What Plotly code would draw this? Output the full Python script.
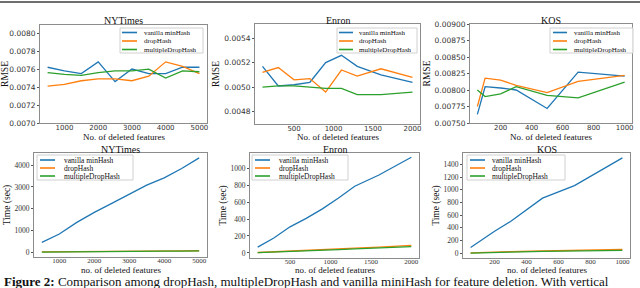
import plotly.graph_objects as go

W, H = 640, 288

# ---------------- data ----------------
series_names = ["vanilla minHash", "dropHash", "multipleDropHash"]
colors = ["#1f77b4", "#ff7f0e", "#2ca02c"]

nyt_x = [500, 1000, 1500, 2000, 2500, 3000, 3500, 4000, 4500, 5000]
enron_x = [100, 300, 500, 700, 900, 1100, 1300, 1600, 2000]
kos_x = [50, 100, 200, 300, 500, 700, 1000]

nyt_rmse_vanilla = [0.00762, 0.00758, 0.00755, 0.00768, 0.00746, 0.00760, 0.00755, 0.00755, 0.00762, 0.00762]
nyt_rmse_drop = [0.00741, 0.00743, 0.00747, 0.00749, 0.00749, 0.00747, 0.00752, 0.00768, 0.00763, 0.00755]
nyt_rmse_multi = [0.00756, 0.00754, 0.00753, 0.00756, 0.00758, 0.00758, 0.00760, 0.00750, 0.00758, 0.00757]

enron_rmse_vanilla = [0.00517, 0.00501, 0.00502, 0.00504, 0.00520, 0.00526, 0.00517, 0.00510, 0.00504]
enron_rmse_drop = [0.00512, 0.00516, 0.00506, 0.00507, 0.00496, 0.00514, 0.00509, 0.00515, 0.00508]
enron_rmse_multi = [0.00500, 0.00501, 0.00501, 0.00500, 0.00499, 0.00499, 0.00494, 0.00494, 0.00496]

kos_rmse_vanilla = [0.00763, 0.00805, 0.00803, 0.00800, 0.00772, 0.00827, 0.00821]
kos_rmse_drop = [0.00775, 0.00818, 0.00815, 0.00807, 0.00796, 0.00813, 0.00822]
kos_rmse_multi = [0.00800, 0.00790, 0.00794, 0.00805, 0.00792, 0.00788, 0.00812]

nyt_time_vanilla = [458, 840, 1374, 1832, 2244, 2656, 3084, 3420, 3847, 4336]
nyt_time_drop = [15, 25, 30, 35, 40, 45, 55, 62, 66, 70]
nyt_time_multi = [10, 20, 25, 30, 35, 40, 45, 50, 55, 60]

enron_time_vanilla = [68, 176, 308, 408, 520, 648, 788, 920, 1130]
enron_time_drop = [5, 15, 25, 32, 40, 47, 57, 68, 90]
enron_time_multi = [3, 12, 20, 27, 35, 40, 48, 58, 75]

kos_time_vanilla = [91, 176, 347, 501, 869, 1067, 1504]
kos_time_drop = [5, 10, 18, 25, 35, 45, 60]
kos_time_multi = [2, 7, 12, 18, 28, 35, 45]

titles = ["NYTimes", "Enron", "KOS"]
caption = "<b>Figure 2:</b> Comparison among dropHash, multipleDropHash and vanilla miniHash for feature deletion. With vertical"

# ---------------- layout helpers ----------------
def X(px):
    return px / W

def Y(py):
    return 1 - py / H

SERIF = "Liberation Serif, DejaVu Serif, serif"
SANS = "DejaVu Sans, sans-serif"

panels = [
    dict(x=nyt_x, ys=[nyt_rmse_vanilla, nyt_rmse_drop, nyt_rmse_multi], box=(40, 207, 25, 123),
         xr=[275, 5225], yr=[0.0070, 0.00809], xt=[1000, 2000, 3000, 4000, 5000],
         yt=[0.0070, 0.0072, 0.0074, 0.0076, 0.0078, 0.0080], fmt=".4f", ytitle="RMSE",
         xtitle="No. of deleted features", xty=137, tf=SANS, leg=(120, 203, 28, 53), lline=(122, 137), ltext=142,
         rows=(32.5, 41, 49.5), lf=7, title=titles[0], ty=21, lw=1.3, tso=-2),
    dict(x=enron_x, ys=[enron_rmse_vanilla, enron_rmse_drop, enron_rmse_multi], box=(255, 420, 24, 124),
         xr=[5, 2095], yr=[0.00470, 0.005515], xt=[500, 1000, 1500, 2000],
         yt=[0.0048, 0.0050, 0.0052, 0.0054], fmt=".4f", ytitle="RMSE",
         xtitle="No. of deleted features", xty=137, tf=SANS, leg=(337, 417, 28, 53), lline=(339, 353), ltext=357,
         rows=(32.5, 41, 49.5), lf=7, title=titles[1], ty=21, lw=1.3, tso=-2),
    dict(x=kos_x, ys=[kos_rmse_vanilla, kos_rmse_drop, kos_rmse_multi], box=(470, 632, 24, 123),
         xr=[2.5, 1047.5], yr=[0.0075, 0.0090], xt=[200, 400, 600, 800, 1000],
         yt=[0.0075, 0.00775, 0.0080, 0.00825, 0.0085, 0.00875, 0.0090], fmt=".5f", ytitle="RMSE",
         xtitle="No. of deleted features", xty=137, tf=SANS, leg=(550, 633, 28, 53), lline=(553, 567), ltext=572,
         rows=(32.5, 41, 49.5), lf=7, title=titles[2], ty=21, lw=1.3, tso=-2),
    dict(x=nyt_x, ys=[nyt_time_vanilla, nyt_time_drop, nyt_time_multi], box=(34, 207, 153, 257),
         xr=[275, 5225], yr=[-217, 4560], xt=[1000, 2000, 3000, 4000, 5000],
         yt=[0, 1000, 2000, 3000, 4000], fmt="d", ytitle="Time (sec)",
         xtitle="no. of deleted features", xty=270, tf=SERIF, leg=(37, 133, 155, 180), lline=(40, 55), ltext=62,
         rows=(160, 168, 176), lf=7.5, title=titles[0], ty=149.5, lw=1.3, tso=-3),
    dict(x=enron_x, ys=[enron_time_vanilla, enron_time_drop, enron_time_multi], box=(250, 419, 153, 258),
         xr=[5, 2095], yr=[-60, 1180], xt=[500, 1000, 1500, 2000],
         yt=[0, 200, 400, 600, 800, 1000], fmt="d", ytitle="Time (sec)",
         xtitle="no. of deleted features", xty=270, tf=SERIF, leg=(252, 348, 155, 180), lline=(255, 270), ltext=277,
         rows=(160, 168, 176), lf=7.5, title=titles[1], ty=149.5, lw=1.3, tso=-3),
    dict(x=kos_x, ys=[kos_time_vanilla, kos_time_drop, kos_time_multi], box=(463, 630, 153, 258),
         xr=[2.5, 1047.5], yr=[-75, 1580], xt=[200, 400, 600, 800, 1000],
         yt=[0, 200, 400, 600, 800, 1000, 1200, 1400], fmt="d", ytitle="Time (sec)",
         xtitle="no. of deleted features", xty=270, tf=SERIF, leg=(467, 565, 155, 180), lline=(470, 485), ltext=490,
         rows=(160, 168, 176), lf=7.5, title=titles[2], ty=149.5, lw=1.3, tso=-3),
]

fig = go.Figure()
shapes = []
annotations = []
layout = {}

for i, p in enumerate(panels):
    n = "" if i == 0 else str(i + 1)
    xa, ya = "x" + n, "y" + n
    for k in range(3):
        fig.add_trace(go.Scatter(x=p["x"], y=p["ys"][k], mode="lines", name=series_names[k],
                                 line=dict(color=colors[k], width=p["lw"]),
                                 xaxis=xa, yaxis=ya, showlegend=False))
    x0, x1, y0, y1 = p["box"]
    layout["xaxis" + n] = dict(domain=[X(x0), X(x1)], range=p["xr"], anchor=ya,
                               tickvals=p["xt"], ticks="", showgrid=False, zeroline=False,
                               showline=True, linecolor="#8c8c8c", linewidth=1, mirror=True,
                               tickfont=dict(family=p["tf"], size=7, color="#333"),
                               ticklabelstandoff=p["tso"],
                               automargin=False)
    layout["yaxis" + n] = dict(domain=[Y(y1), Y(y0)], range=p["yr"], anchor=xa,
                               tickvals=p["yt"], tickformat=p["fmt"], ticks="outside", ticklen=2,
                               tickcolor="#555", showgrid=False, zeroline=False,
                               showline=True, linecolor="#8c8c8c", linewidth=1, mirror=True,
                               tickfont=dict(family=p["tf"], size=7.5, color="#333"),
                               title=dict(text=p["ytitle"], standoff=2,
                                          font=dict(family=SERIF, size=9.5, color="#111")),
                               automargin=False)
    # x-axis title
    annotations.append(dict(text=p["xtitle"], x=X((x0 + x1) / 2), y=Y(p["xty"]), xref="paper", yref="paper",
                            xanchor="center", yanchor="middle", showarrow=False,
                            font=dict(family=SERIF, size=9, color="#111")))
    # panel title
    annotations.append(dict(text=p["title"], x=X((x0 + x1) / 2), y=Y(p["ty"]), xref="paper", yref="paper",
                            xanchor="center", yanchor="middle", showarrow=False,
                            font=dict(family=SERIF, size=10, color="#111")))
    lx0, lx1, ly0, ly1 = p["leg"]
    shapes.append(dict(type="rect", xref="paper", yref="paper", x0=X(lx0), x1=X(lx1), y0=Y(ly1), y1=Y(ly0),
                       line=dict(color="#d0d0d0", width=1), fillcolor="rgba(255,255,255,0.85)", layer="above"))
    for k in range(3):
        ry = p["rows"][k]
        shapes.append(dict(type="line", xref="paper", yref="paper", x0=X(p["lline"][0]), x1=X(p["lline"][1]),
                           y0=Y(ry), y1=Y(ry), line=dict(color=colors[k], width=1.6), layer="above"))
        annotations.append(dict(text=series_names[k], x=X(p["ltext"]), y=Y(ry), xref="paper", yref="paper",
                                xanchor="left", yanchor="middle", showarrow=False,
                                font=dict(family=SERIF, size=p["lf"], color="#111")))

shapes.append(dict(type="line", xref="paper", yref="paper", x0=0, x1=1, y0=Y(2), y1=Y(2),
                   line=dict(color="#6e6e6e", width=2)))
annotations.append(dict(text=caption, x=X(2), y=Y(281.5), xref="paper", yref="paper",
                        xanchor="left", yanchor="middle", showarrow=False,
                        font=dict(family=SERIF, size=13, color="#111")))

fig.update_layout(width=W, height=H, margin=dict(l=0, r=0, t=0, b=0),
                  paper_bgcolor="white", plot_bgcolor="white",
                  shapes=shapes, annotations=annotations, **layout)

fig.write_html("out.html", config={"displayModeBar": False},
               post_script="document.body.style.margin='0';document.body.style.overflow='hidden';")
